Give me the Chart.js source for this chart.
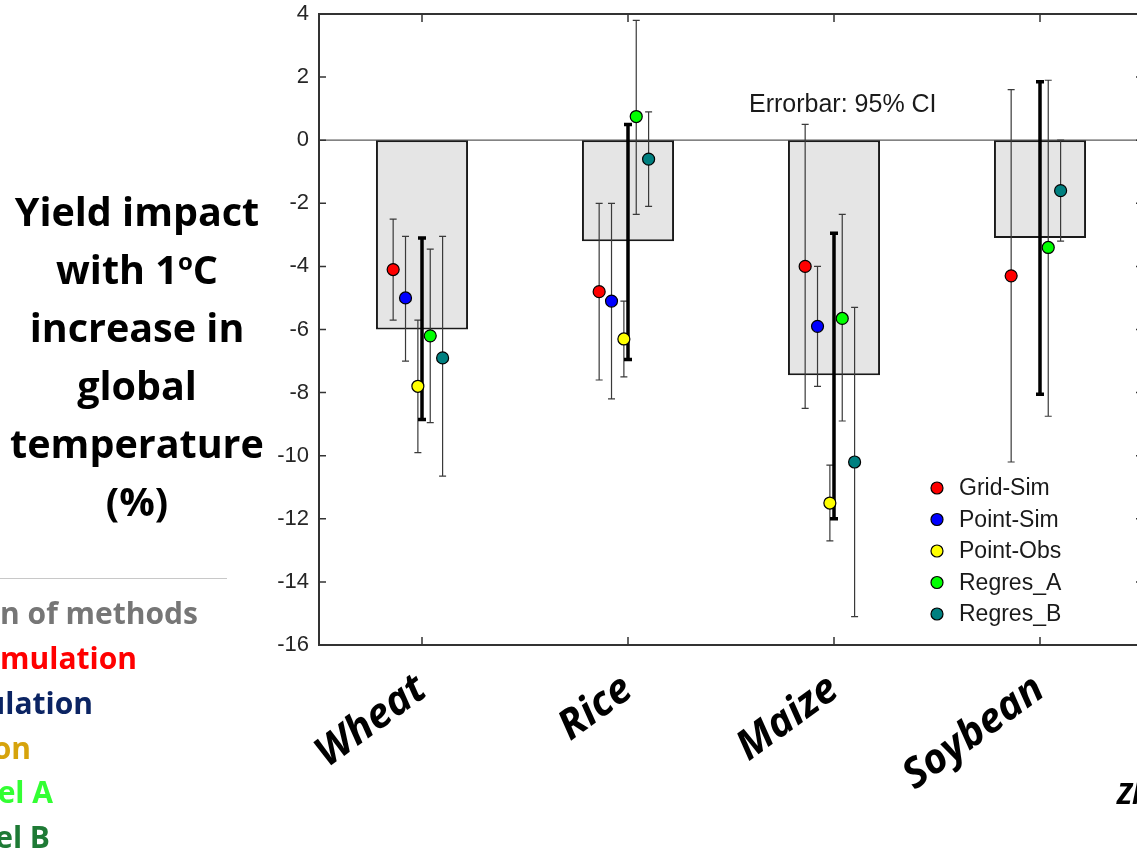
<!DOCTYPE html>
<html>
<head>
<meta charset="utf-8">
<script src="https://cdn.jsdelivr.net/npm/chart.js@4/dist/chart.umd.min.js"></script>
<style>
  html, body { margin: 0; padding: 0; background: #fff; width: 1137px; height: 852px; overflow: hidden; }
  #wrap { position: relative; width: 1137px; height: 852px; overflow: hidden; }
  #chart { position: absolute; left: 0; top: 0; }
  .ytitle { position: absolute; left: 7px; top: 182px; width: 260px; text-align: center;
            font-family: 'Open Sans'; font-weight: 700; font-size: 39.5px; line-height: 58px; color: #000; }
  .ytitle sup { font-size: 24px; vertical-align: 14px; line-height: 0; }
  .side { position: absolute; width: 400px; text-align: right; white-space: nowrap;
          font-family: 'Open Sans'; font-weight: 700; font-size: 30px; line-height: 40px; }
  .rule { position: absolute; left: 0; top: 578px; width: 227px; height: 0; border-top: 1.5px solid #c8c8c8; }
  .cite { position: absolute; left: 1117px; top: 774px; white-space: nowrap;
          font-family: 'Open Sans'; font-weight: 700; font-style: italic; font-size: 28px; color: #000; }
</style>
</head>
<body>
<div id="wrap">
  <canvas id="chart" width="1160" height="852"></canvas>
  <div class="ytitle">Yield impact<br>with 1<sup>o</sup>C<br>increase in<br>global<br>temperature<br>(%)</div>
  <div class="rule"></div>
  <div class="side" style="left:-202px; top:593px; color:#767676;">n of methods</div>
  <div class="side" style="left:-263px; top:638px; color:#ff0000;">mulation</div>
  <div class="side" style="left:-307px; top:683px; color:#0b2463;">ulation</div>
  <div class="side" style="left:-369px; top:728px; color:#d6a30c;">on</div>
  <div class="side" style="left:-347px; top:772px; color:#33ff33;">el A</div>
  <div class="side" style="left:-350px; top:817px; color:#1e7a35;">el B</div>
  <div class="cite">Zhao et al.</div>
</div>
<script>
// crops and the mean bar (with its 95% CI, thick black bar)
const categories = ["Wheat", "Rice", "Maize", "Soybean"];
const barMean = [-6.0, -3.2, -7.45, -3.1];
const barLo = [-8.85, -6.95, -12.0, -8.05];
const barHi = [-3.1, 0.5, -2.95, 1.85];

// per-method estimates and their 95% CI (null = not available)
const gridSimVal = [-4.1, -4.8, -4.0, -4.3];
const gridSimLo = [-5.7, -7.6, -8.5, -10.2];
const gridSimHi = [-2.5, -2.0, 0.5, 1.6];

const pointSimVal = [-5.0, -5.1, -5.9, null];
const pointSimLo = [-7.0, -8.2, -7.8, null];
const pointSimHi = [-3.05, -2.0, -4.0, null];

const pointObsVal = [-7.8, -6.3, -11.5, null];
const pointObsLo = [-9.9, -7.5, -12.7, null];
const pointObsHi = [-5.7, -5.1, -10.3, null];

const regresAVal = [-6.2, 0.75, -5.65, -3.4];
const regresALo = [-8.95, -2.35, -8.9, -8.75];
const regresAHi = [-3.45, 3.8, -2.35, 1.9];

const regresBVal = [-6.9, -0.6, -10.2, -1.6];
const regresBLo = [-10.65, -2.1, -15.1, -3.2];
const regresBHi = [-3.05, 0.9, -5.3, 0.0];

const yTicks = [-16, -14, -12, -10, -8, -6, -4, -2, 0, 2, 4];

// series setup (horizontal dodge inside each crop, in category units)
const methods = [
  { name: "Grid-Sim",  color: "#ff0000", dx: -0.14, val: gridSimVal,  lo: gridSimLo,  hi: gridSimHi },
  { name: "Point-Sim", color: "#0000ff", dx: -0.08, val: pointSimVal, lo: pointSimLo, hi: pointSimHi },
  { name: "Point-Obs", color: "#ffff00", dx: -0.02, val: pointObsVal, lo: pointObsLo, hi: pointObsHi },
  { name: "Regres_A",  color: "#00ff00", dx: 0.04,  val: regresAVal,  lo: regresALo,  hi: regresAHi },
  { name: "Regres_B",  color: "#008080", dx: 0.10,  val: regresBVal,  lo: regresBLo,  hi: regresBHi }
];

const axisColor = "#333333";

function pointsFor(m) {
  const out = [];
  categories.forEach((c, i) => {
    if (m.val[i] != null) out.push({ x: i + 1 + m.dx, y: m.val[i], lo: m.lo[i], hi: m.hi[i] });
  });
  return out;
}

const datasets = [{
  type: "bar",
  label: "mean",
  data: barMean,
  xAxisID: "x",
  backgroundColor: "#e5e5e5",
  borderColor: "#1a1a1a",
  borderWidth: 2,
  borderSkipped: false,
  grouped: false,
  categoryPercentage: 1,
  barPercentage: 0.447,
  order: 10
}];

methods.forEach(m => {
  datasets.push({
    type: "scatter",
    label: m.name,
    data: pointsFor(m),
    xAxisID: "x2",
    backgroundColor: m.color,
    borderColor: "#000",
    borderWidth: 1.2,
    pointRadius: 6,
    pointHoverRadius: 6,
    order: 0
  });
});

function drawBar(ctx, x, y1, y2, half, width, color) {
  ctx.strokeStyle = color;
  ctx.lineWidth = width;
  ctx.beginPath();
  ctx.moveTo(x, y1); ctx.lineTo(x, y2);
  ctx.moveTo(x - half, y1); ctx.lineTo(x + half, y1);
  ctx.moveTo(x - half, y2); ctx.lineTo(x + half, y2);
  ctx.stroke();
}

// zero line, error bars, frame with inward ticks
const decorations = {
  id: "decorations",
  beforeDatasetsDraw(chart) {
    const { ctx, chartArea: a, scales } = chart;
    const y0 = scales.y.getPixelForValue(0);
    ctx.save();
    ctx.strokeStyle = "#5a5a5a";
    ctx.lineWidth = 1.2;
    ctx.beginPath();
    ctx.moveTo(a.left, y0); ctx.lineTo(a.right, y0);
    ctx.stroke();
    ctx.restore();
  },
  afterDatasetDraw(chart, args) {
    if (args.index !== 0) return;
    const { ctx, scales } = chart;
    ctx.save();
    methods.forEach(m => {
      pointsFor(m).forEach(p => {
        const px = scales.x2.getPixelForValue(p.x);
        drawBar(ctx, px, scales.y.getPixelForValue(p.hi), scales.y.getPixelForValue(p.lo), 3.5, 1.2, "#3a3a3a");
      });
    });
    categories.forEach((c, i) => {
      const px = scales.x2.getPixelForValue(i + 1);
      drawBar(ctx, px, scales.y.getPixelForValue(barHi[i]), scales.y.getPixelForValue(barLo[i]), 4, 3.5, "#000");
    });
    ctx.restore();
  },
  afterDraw(chart) {
    const { ctx, chartArea: a, scales } = chart;
    ctx.save();
    ctx.strokeStyle = axisColor;
    ctx.lineWidth = 2;
    ctx.strokeRect(a.left, a.top, a.right - a.left, a.bottom - a.top);
    ctx.lineWidth = 1.5;
    ctx.beginPath();
    yTicks.forEach(v => {
      const py = scales.y.getPixelForValue(v);
      ctx.moveTo(a.left, py); ctx.lineTo(a.left + 7, py);
      ctx.moveTo(a.right, py); ctx.lineTo(a.right - 7, py);
    });
    categories.forEach((c, i) => {
      const px = scales.x2.getPixelForValue(i + 1);
      ctx.moveTo(px, a.top); ctx.lineTo(px, a.top + 8);
      ctx.moveTo(px, a.bottom); ctx.lineTo(px, a.bottom - 8);
    });
    ctx.stroke();

    // annotation
    ctx.fillStyle = "#1a1a1a";
    ctx.font = "25px 'Liberation Sans', Arial, sans-serif";
    ctx.textAlign = "left";
    ctx.textBaseline = "middle";
    ctx.fillText("Errorbar: 95% CI", 749, 105);

    // legend
    ctx.font = "23px 'Liberation Sans', Arial, sans-serif";
    methods.forEach((m, k) => {
      const ly = 488 + k * 31.5;
      ctx.beginPath();
      ctx.arc(937, ly, 6, 0, Math.PI * 2);
      ctx.fillStyle = m.color;
      ctx.fill();
      ctx.lineWidth = 1.2;
      ctx.strokeStyle = "#000";
      ctx.stroke();
      ctx.fillStyle = "#1a1a1a";
      ctx.fillText(m.name, 959, ly + 1);
    });
    ctx.restore();
  }
};

new Chart(document.getElementById("chart"), {
  data: { labels: categories, datasets },
  options: {
    responsive: false,
    animation: false,
    layout: { padding: { top: 14, right: 17, bottom: 0, left: 0 } },
    plugins: {
      legend: { display: false },
      tooltip: { enabled: false }
    },
    scales: {
      x: {
        type: "category",
        offset: true,
        grid: { display: false, drawTicks: false },
        border: { display: false },
        ticks: {
          color: "#000",
          font: { family: "'Open Sans'", weight: "bold", style: "italic", size: 41 },
          minRotation: 36,
          maxRotation: 36,
          autoSkip: false,
          padding: 20
        },
        afterFit(scale) { scale.height = 207; }
      },
      x2: {
        type: "linear",
        display: false,
        min: 0.5,
        max: 4.5
      },
      y: {
        min: -16,
        max: 4,
        grid: { display: false, drawTicks: false },
        border: { display: false },
        ticks: {
          stepSize: 2,
          color: "#262626",
          padding: 10,
          font: { family: "'Liberation Sans'", size: 22 }
        },
        afterFit(scale) {
          scale.width = 319;
          scale.paddingTop = 0;
          scale.paddingBottom = 0;
        }
      }
    }
  },
  plugins: [decorations]
});
</script>
</body>
</html>
